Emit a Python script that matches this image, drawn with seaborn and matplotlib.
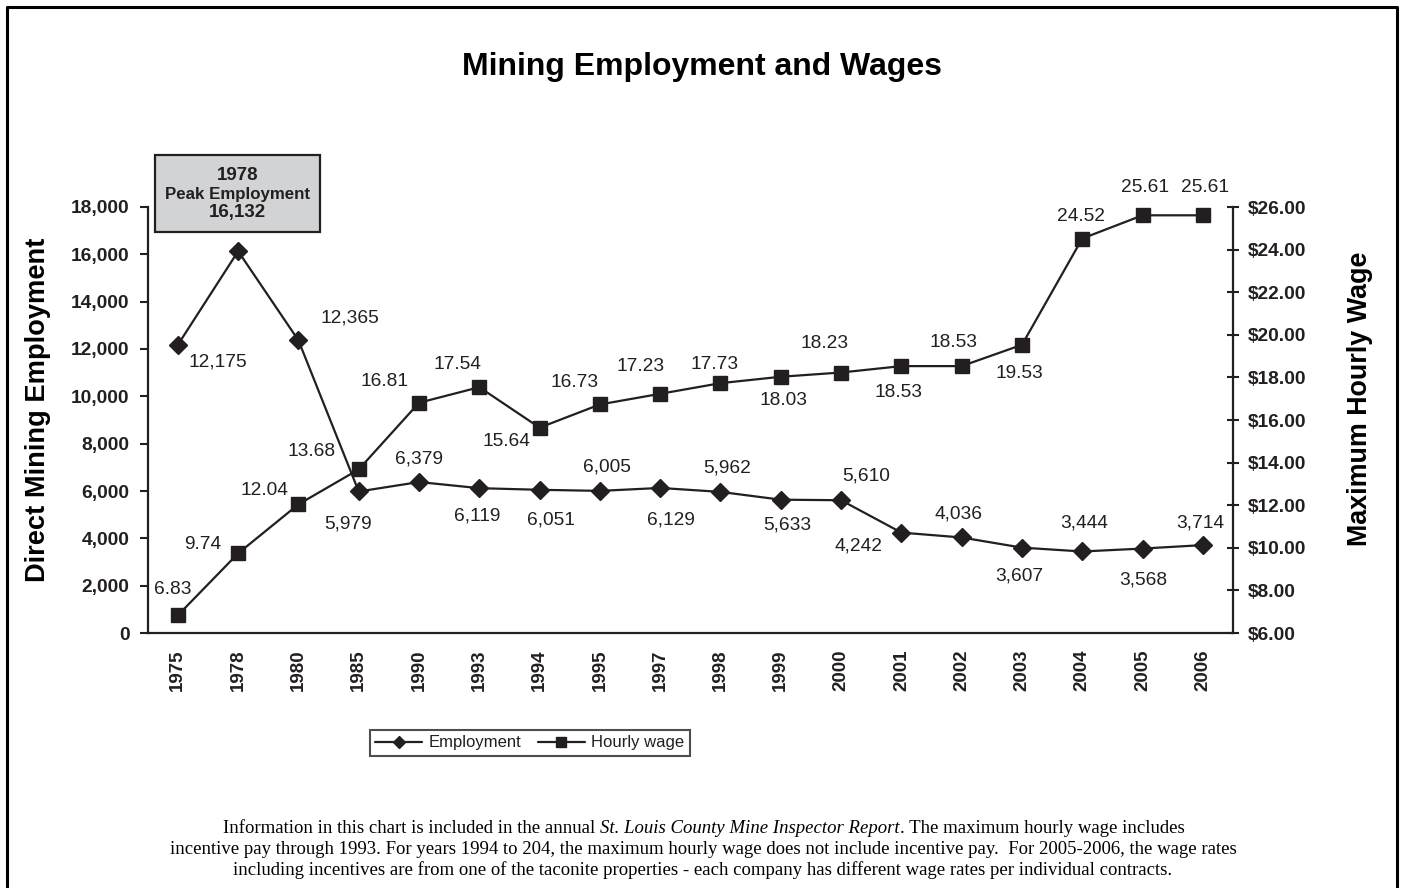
import matplotlib
matplotlib.use('Agg')
import matplotlib.pyplot as plt
import seaborn as sns
import pandas as pd
from matplotlib.patches import Rectangle
from matplotlib.lines import Line2D
from matplotlib.ticker import FuncFormatter, MultipleLocator

# data
years = ['1975', '1978', '1980', '1985', '1990', '1993', '1994', '1995', '1997',
         '1998', '1999', '2000', '2001', '2002', '2003', '2004', '2005', '2006']
employment = [12175, 16132, 12365, 5979, 6379, 6119, 6051, 6005, 6129,
              5962, 5633, 5610, 4242, 4036, 3607, 3444, 3568, 3714]
wage = [6.83, 9.74, 12.04, 13.68, 16.81, 17.54, 15.64, 16.73, 17.23,
        17.73, 18.03, 18.23, 18.53, 18.53, 19.53, 24.52, 25.61, 25.61]

df = pd.DataFrame({'year': years, 'employment': employment, 'wage': wage})

# label offsets in pixels (dx right, dy down) from each marker
emp_off = [(40, 17), None, (51, -22), (-11, 33), (0, -23), (-2, 28), (11, 30), (7, -24), (11, 32),
           (7, -24), (6, 25), (25, -24), (-43, 13), (-3, -23), (-3, 28), (2, -28), (1, 31), (-3, -22)]
wage_off = [(-5, -26), (-35, -9), (-34, -14), (-47, -18), (-35, -21), (-22, -23), (-33, 14), (-25, -22), (-20, -27),
            (-6, -19), (3, 24), (-17, -29), (-3, 26), (-8, -24), (-3, 29), (-1, -22), (2, -28), (2, -28)]

INK = '#231f20'
W, H = 1401, 888

sns.set_theme(style='white')
plt.rcParams['font.family'] = ['Liberation Sans', 'DejaVu Sans']

fig = plt.figure(figsize=(W / 100, H / 100), dpi=100)
fig.patch.set_facecolor('white')

x0, x1, y0, y1 = 147.7, 1233, 207, 633
ax = fig.add_axes([x0 / W, 1 - y1 / H, (x1 - x0) / W, (y1 - y0) / H])
ax2 = ax.twinx()

sns.lineplot(data=df, x='year', y='employment', ax=ax, sort=False, color=INK, linewidth=1.6,
             marker='D', markersize=8.8, markeredgecolor=INK, markeredgewidth=1, legend=False)
sns.lineplot(data=df, x='year', y='wage', ax=ax2, sort=False, color=INK, linewidth=1.6,
             marker='s', markersize=9.8, markeredgecolor=INK, markeredgewidth=1, legend=False)

ax.set_xlim(-0.5, len(years) - 0.5)
ax.set_ylim(0, 18000)
ax2.set_ylim(6, 26)
ax.yaxis.set_major_locator(MultipleLocator(2000))
ax2.yaxis.set_major_locator(MultipleLocator(2))
ax.yaxis.set_major_formatter(FuncFormatter(lambda v, p: f'{int(v):,}'))
ax2.yaxis.set_major_formatter(FuncFormatter(lambda v, p: f'${v:.2f}'))

ax.set_xticks(range(len(years)))
ax.set_xticklabels(years, rotation=90, fontsize=13.5, fontweight='bold', color=INK)
ax.set_xticks([i - 0.5 for i in range(len(years) + 1)], minor=True)
ax.tick_params(axis='x', which='major', length=0, pad=12)
ax.tick_params(axis='x', which='minor', length=6, width=1.5, color=INK, direction='out')
ax.tick_params(axis='y', length=6, width=1.5, color=INK, direction='out', pad=7, left=True,
               labelsize=13.8, labelcolor=INK)
ax2.tick_params(axis='y', length=9, width=1.5, color=INK, direction='inout', pad=6, right=True,
                labelsize=13.8, labelcolor=INK)
for lab in ax.get_yticklabels() + ax2.get_yticklabels():
    lab.set_fontweight('bold')

for a in (ax, ax2):
    a.grid(False)
    a.set_xlabel('')
    for s in a.spines.values():
        s.set_visible(False)
        s.set_color(INK)
        s.set_linewidth(1.6)
ax.spines['left'].set_visible(True)
ax.spines['bottom'].set_visible(True)
ax2.spines['right'].set_visible(True)

ax.set_ylabel('Direct Mining Employment', fontsize=19.6, fontweight='bold', color='black')
ax.yaxis.set_label_coords(-0.089, 0.523)
ax2.set_ylabel('Maximum Hourly Wage', fontsize=19.4, fontweight='bold', color='black', rotation=90)
ax2.yaxis.set_label_coords(1.105, 0.549)

# data labels
for i, v in enumerate(employment):
    if emp_off[i] is None:
        continue
    dx, dy = emp_off[i]
    ax.annotate(f'{v:,}', (i, v), xytext=(dx, -dy), textcoords='offset pixels',
                ha='center', va='center', fontsize=13.8, color=INK)
for i, v in enumerate(wage):
    dx, dy = wage_off[i]
    ax2.annotate(f'{v:.2f}', (i, v), xytext=(dx, -dy), textcoords='offset pixels',
                 ha='center', va='center', fontsize=13.8, color=INK)

# peak employment box
fig.patches.append(Rectangle((155 / W, 1 - 232 / H), 165 / W, 77 / H, transform=fig.transFigure,
                             facecolor='#d1d3d4', edgecolor=INK, linewidth=1.6))
fig.text(237.5 / W, 1 - 176 / H, '1978', ha='center', va='center', fontsize=13.5, fontweight='bold', color=INK)
fig.text(237.5 / W, 1 - 195 / H, 'Peak Employment', ha='center', va='center', fontsize=12.2, fontweight='bold', color=INK)
fig.text(237.5 / W, 1 - 212 / H, '16,132', ha='center', va='center', fontsize=13.5, fontweight='bold', color=INK)

fig.text(701.5 / W, 1 - 67 / H, 'Mining Employment and Wages', ha='center', va='center',
         fontsize=23, fontweight='bold', color='black')

handles = [Line2D([], [], color=INK, linewidth=1.6, marker='D', markersize=6.5),
           Line2D([], [], color=INK, linewidth=1.6, marker='s', markersize=6.5)]
leg = fig.legend(handles, ['Employment', 'Hourly wage'], loc='center', ncol=2,
                 bbox_to_anchor=(530 / W, 1 - 743 / H), fontsize=12, frameon=True, fancybox=False,
                 handlelength=2.8, handletextpad=0.4, columnspacing=1.0, borderpad=0.35,
                 borderaxespad=0)
leg.get_frame().set_edgecolor(INK)
leg.get_frame().set_linewidth(1.5)
for t in leg.get_texts():
    t.set_color(INK)

# footnote, first line mixes upright and italic runs
NOTE_FS = 13.5
note1 = [('Information in this chart is included in the annual ', 'normal'),
         ('St. Louis County Mine Inspector Report', 'italic'),
         ('. The maximum hourly wage includes', 'normal')]
note_rest = ['incentive pay through 1993. For years 1994 to 204, the maximum hourly wage does not include incentive pay.  For 2005-2006, the wage rates',
             'including incentives are from one of the taconite properties - each company has different wage rates per individual contracts.']

renderer = fig.canvas.get_renderer()
pieces = []
for txt, style in note1:
    t = fig.text(0, 1 - 828 / H, txt, ha='left', va='center', fontsize=NOTE_FS,
                 family='Liberation Serif', style=style, color='black')
    pieces.append(t)
widths = [p.get_window_extent(renderer).width for p in pieces]
start = 704 - sum(widths) / 2
for p, w in zip(pieces, widths):
    p.set_x(start / W)
    start += w
for yy, line in zip([849, 870], note_rest):
    fig.text(703 / W, 1 - yy / H, line, ha='center', va='center', fontsize=NOTE_FS,
             family='Liberation Serif', color='black')

# outer border (left, top, right)
fig.add_artist(Line2D([7 / W, 7 / W, 1397 / W, 1397 / W], [0, 1 - 7 / H, 1 - 7 / H, 0],
                      transform=fig.transFigure, color='black', linewidth=2.2))

fig.savefig('out.png', dpi=100, facecolor='white')
